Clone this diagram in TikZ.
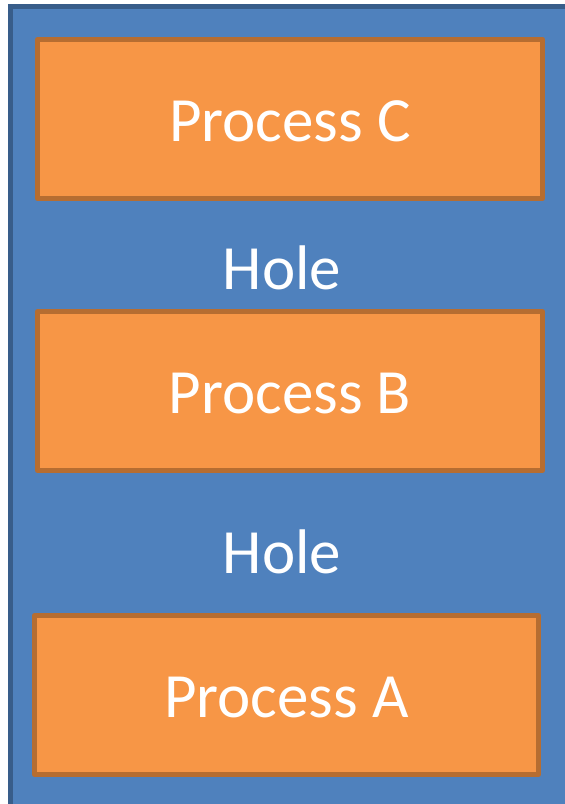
\documentclass[tikz,border=0pt]{standalone}
\usepackage{fontspec}
\setmainfont{Carlito}
\definecolor{bgblue}{HTML}{4F81BD}
\definecolor{bgborder}{HTML}{385D8A}
\definecolor{procfill}{HTML}{F79646}
\definecolor{procborder}{HTML}{B66D31}
\tikzset{
  procbox/.style={draw=procborder, fill=procfill, line width=5pt, line join=round,
    minimum width=505pt, minimum height=159pt, inner sep=0pt, text=white,
    text height=46pt, text depth=0pt,
    font=\fontsize{63}{70}\selectfont},
  holelabel/.style={text=white, inner sep=0pt, font=\fontsize{63}{70}\selectfont}
}
\begin{document}
\begin{tikzpicture}[x=1pt,y=1pt]
\useasboundingbox (0,0) rectangle (565,804);
\fill[white] (0,0) rectangle (565,804);
\begin{scope}
\clip (0,0) rectangle (565,804);
\draw[draw=bgborder, fill=bgblue, line width=5pt] (10.5,797.5) rectangle (600,-30);
\end{scope}
\node[procbox] (procC) at (290,685) {Process C};
\node[holelabel] (hole1) at (282,536) {Hole};
\node[procbox] (procB) at (290,413) {Process B};
\node[holelabel] (hole2) at (282,252) {Hole};
\node[procbox, minimum width=504pt] (procA) at (286.5,109) {Process A};
\end{tikzpicture}
\end{document}
